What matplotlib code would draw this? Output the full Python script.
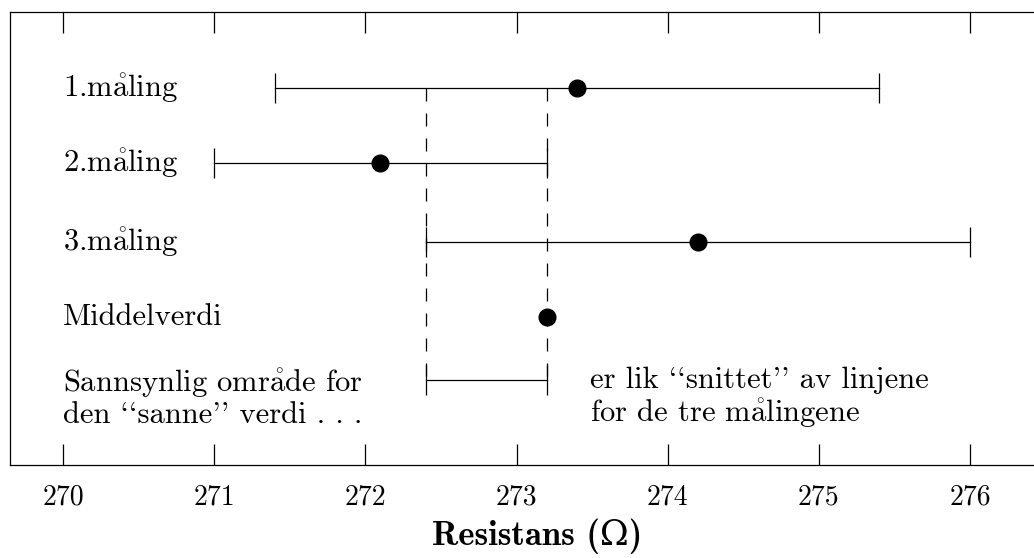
import matplotlib.pyplot as plt

AA = r"$\mathring{\mathrm{a}}$"
labels = ["1.m" + AA + "ling", "2.m" + AA + "ling", "3.m" + AA + "ling", "Middelverdi"]
centers = [273.4, 272.1, 274.2, 273.2]
lows = [271.4, 271.0, 272.4, None]
highs = [275.4, 273.2, 276.0, None]
overlap = [272.4, 273.2]
ticks = [270, 271, 272, 273, 274, 275, 276]

left_note = "Sannsynlig omr" + AA + "de for\nden ``sanne'' verdi . . ."
right_note = "er lik ``snittet'' av linjene\nfor de tre m" + AA + "lingene"

rows = [88, 163, 242, 317, 380]
FONT = ["cmr10", "DejaVu Serif"]
BOLD = ["cmb10", "DejaVu Serif"]

plt.rcParams["mathtext.fontset"] = "cm"
plt.rcParams["axes.formatter.use_mathtext"] = True

fig = plt.figure(figsize=(10.34, 5.58), dpi=100)
ax = fig.add_axes([10 / 1034, 1 - 465 / 558, 1030 / 1034, 453 / 558])
ax.set_xlim(269.649, 276.463)
ax.set_ylim(465, 12)

for lab, c, lo, hi, y in zip(labels, centers, lows, highs, rows):
    if lo is not None:
        ax.plot([lo, hi], [y, y], color="black", lw=0.9,
                marker="|", markersize=22, markeredgewidth=0.9)
    ax.plot(c, y, "o", color="black", markersize=12)
    ax.text(270, y, lab, family=FONT, fontsize=22, va="center", ha="left")

# overlap of the three intervals
ax.plot(overlap, [rows[4], rows[4]], color="black", lw=0.9,
        marker="|", markersize=22, markeredgewidth=0.9)
for x in overlap:
    ax.plot([x, x], [rows[0], rows[4]], color="black", lw=0.9,
            linestyle=(0, (10.4, 9.6)))

ax.text(270, 398, left_note, family=FONT, fontsize=22, va="center",
        ha="left", multialignment="left", linespacing=1.1)
ax.text(273.486, 398, right_note, family=FONT, fontsize=22, va="center",
        ha="left", multialignment="left", linespacing=1.1)

ax.set_yticks([])
ax.set_xticks(ticks)
ax.set_xticklabels([str(t) for t in ticks], family=FONT, fontsize=20)
ax.tick_params(axis="x", direction="in", top=True, length=15, width=0.9, pad=14)
for s in ax.spines.values():
    s.set_linewidth(0.9)
ax.set_xlabel("Resistans (Ω)", family=BOLD, fontsize=25)
ax.xaxis.set_label_coords(0.512, -0.118)

fig.savefig("out.png", dpi=100)
